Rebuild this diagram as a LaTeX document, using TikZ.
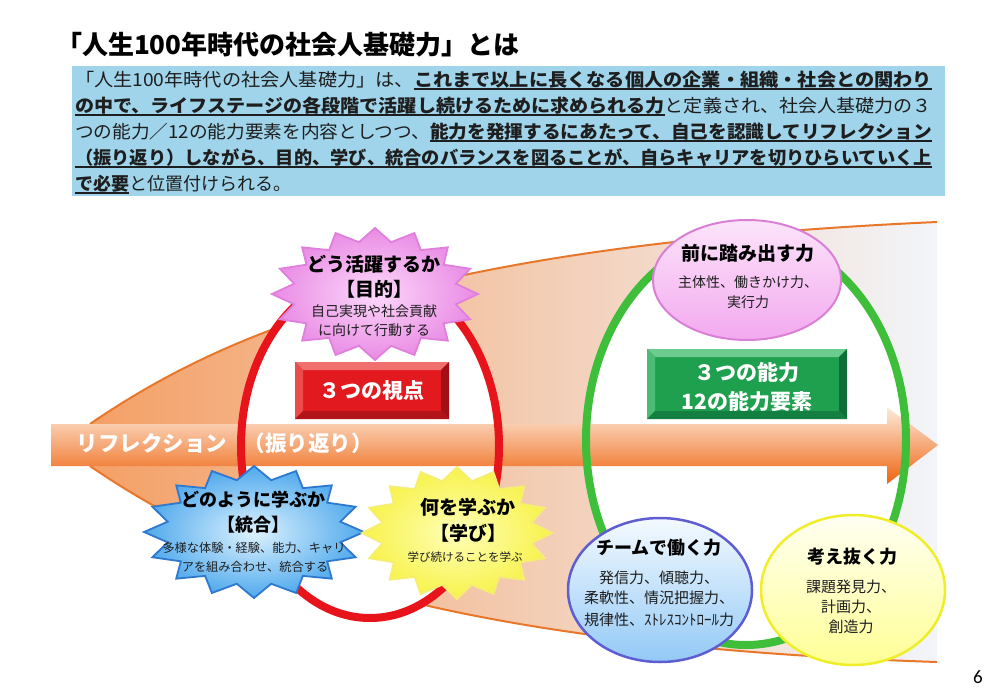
\documentclass[tikz,border=0pt]{standalone}
\usepackage{fontspec}
\usepackage{graphicx}
\setmainfont{Noto Sans CJK JP}
\newfontfamily\pgnum{Carlito}
\usetikzlibrary{shapes.geometric}
\definecolor{boxblue}{HTML}{9FD4EA}
\definecolor{wedgeline}{HTML}{E8772A}
\definecolor{wedgeL}{HTML}{F4A066}
\definecolor{wedgeM}{HTML}{FBDDC8}
\definecolor{wedgeR}{HTML}{F2F5FA}
\definecolor{ringred}{HTML}{E8141C}
\definecolor{ringgreen}{HTML}{3FBE3A}
\definecolor{arrT}{HTML}{FDEBDD}
\definecolor{arrM}{HTML}{F6852F}
\definecolor{arrB}{HTML}{EE6410}
\definecolor{rbC}{HTML}{E2191F}
\definecolor{rbT}{HTML}{F07070}
\definecolor{rbL}{HTML}{EA4C4C}
\definecolor{rbR}{HTML}{A01015}
\definecolor{rbB}{HTML}{B3141A}
\definecolor{gbC}{HTML}{1FA04F}
\definecolor{gbT}{HTML}{6CCB8E}
\definecolor{gbL}{HTML}{4DBB75}
\definecolor{gbR}{HTML}{0F6E38}
\definecolor{gbB}{HTML}{137F40}
\definecolor{pinkIn}{HTML}{FCD8FA}
\definecolor{pinkOut}{HTML}{E98BE4}
\definecolor{pinkEdge}{HTML}{E07FDD}
\definecolor{blueIn}{HTML}{DDF2FF}
\definecolor{blueOut}{HTML}{4FA9EC}
\definecolor{blueEdge}{HTML}{2E78D0}
\definecolor{yelIn}{HTML}{FFFFB8}
\definecolor{yelOut}{HTML}{F7F24A}
\definecolor{yelEdge}{HTML}{F5EE70}
\definecolor{peT}{HTML}{FCE4FA}
\definecolor{peB}{HTML}{F3A9EF}
\definecolor{peEdge}{HTML}{D980D6}
\definecolor{beT}{HTML}{F4FAFF}
\definecolor{beB}{HTML}{93C9F6}
\definecolor{beEdge}{HTML}{5E5ED2}
\definecolor{yeT}{HTML}{FFFFF2}
\definecolor{yeB}{HTML}{FFFF96}
\definecolor{yeEdge}{HTML}{F0EE28}
\definecolor{txt}{HTML}{1E1E1E}
\newcommand\ulb[1]{\setbox2=\hbox{\bfseries #1}\rlap{\rule[-3.8pt]{\wd2}{1.4pt}}\box2}
\newcommand\fitline[2]{\setbox0=\hbox{#2}\pgfmathsetmacro\fitsx{#1/\the\wd0}\scalebox{\fitsx}[1]{\box0}}
\newcommand\starshape[5]{plot[samples at={0,11.25,...,348.75},variable=\t]({#1+#3*(#5+(1-#5)*(1+cos(16*\t))/2)*cos(\t)},{#2+#4*(#5+(1-#5)*(1+cos(16*\t))/2)*sin(\t)}) -- cycle}
\newcommand\bevelbox[6]{%
  \fill[#6C] (#1,#2) rectangle (#3,#4);
  \fill[#6T] (#1,#2) -- (#3,#2) -- ({#3-#5},{#2+#5}) -- ({#1+#5},{#2+#5}) -- cycle;
  \fill[#6L] (#1,#2) -- ({#1+#5},{#2+#5}) -- ({#1+#5},{#4-#5}) -- (#1,#4) -- cycle;
  \fill[#6R] (#3,#2) -- ({#3-#5},{#2+#5}) -- ({#3-#5},{#4-#5}) -- (#3,#4) -- cycle;
  \fill[#6B] (#1,#4) -- ({#1+#5},{#4-#5}) -- ({#3-#5},{#4-#5}) -- (#3,#4) -- cycle;}
\tikzset{
  every node/.style={inner sep=0pt, outer sep=0pt},
  bodytext/.style={font=\fontsize{18}{22}\selectfont, text=txt, anchor=base west},
  hd/.style={font=\fontsize{19}{22}\selectfont\bfseries, text=black},
  hdsmall/.style={font=\fontsize{18}{22}\selectfont\bfseries, text=black},
  sm/.style={font=\fontsize{14}{16}\selectfont, text=txt},
  smb/.style={font=\fontsize{12.2}{14}\selectfont, text=txt},
  elt/.style={font=\fontsize{15}{18}\selectfont, text=txt},
  boxtxt/.style={font=\fontsize{21}{24}\selectfont\bfseries, text=white},
  arrtxt/.style={font=\fontsize{21.5}{26}\selectfont\bfseries, text=white},
  ring/.style={line width=8pt},
  oval/.style={ellipse, line width=2.5pt},
}
\begin{document}
\begin{tikzpicture}[x=1pt,y=-1pt]
\useasboundingbox (0,0) rectangle (1001,693);
\fill[white] (0,0) rectangle (1001,693);
% title
\node[anchor=west, font=\fontsize{26}{30}\selectfont\bfseries, text=black] (title) at (56,45) {「人生100年時代の社会人基礎力」とは};
% blue box
\fill[boxblue] (72,66) rectangle (945,196);
\node[bodytext] (l1) at (75,86) {\fitline{857}{「人生100年時代の社会人基礎力」は、\ulb{これまで以上に長くなる個人の企業・組織・社会との関わり}}};
\node[bodytext] (l2) at (75,112) {\fitline{857}{\ulb{の中で、ライフステージの各段階で活躍し続けるために求められる力}と定義され、社会人基礎力の３}};
\node[bodytext] (l3) at (75,138) {\fitline{857}{つの能力／12の能力要素を内容としつつ、\ulb{能力を発揮するにあたって、自己を認識してリフレクション}}};
\node[bodytext] (l4) at (75,164) {\fitline{857}{\ulb{（振り返り）しながら、目的、学び、統合のバランスを図ることが、自らキャリアを切りひらいていく上}}};
\node[bodytext] (l5) at (75,190) {\ulb{で必要}と位置付けられる。};
% wedge
\path[left color=wedgeL, middle color=wedgeM, right color=wedgeR]
  (90,424) .. controls (220,335) and (420,245) .. (937,222) -- (937,662)
  .. controls (420,645) and (220,555) .. (90,466) -- cycle;
\draw[wedgeline, line width=2pt] (90,424) .. controls (220,335) and (420,245) .. (937,222);
\draw[wedgeline, line width=2pt] (90,466) .. controls (220,555) and (420,645) .. (937,662);
% ring fills
\fill[white] (370,446) ellipse [x radius=129, y radius=172];
\fill[white] (746,440) ellipse [x radius=160, y radius=205];
% arrow
\path[top color=arrT, middle color=arrM, bottom color=arrB]
  (51,424) -- (887,424) -- (887,407) -- (938,445) -- (887,484) -- (887,466) -- (51,466) -- cycle;
\node[arrtxt] (arrtxt1) at (152,443) {リフレクション};
\node[arrtxt] (arrtxt2) at (308,443) {（振り返り）};
% ring strokes
\draw[ringred, ring] (370,446) ellipse [x radius=129, y radius=172];
\draw[ringgreen, ring] (746,440) ellipse [x radius=160, y radius=205];
% bevel boxes
\bevelbox{295}{362}{449}{419}{8}{rb}
\node[boxtxt] (redtxt) at (372,391) {３つの視点};
\bevelbox{647}{349}{847}{419}{8}{gb}
\node[boxtxt] (gtxt1) at (747,373) {３つの能力};
\node[boxtxt] (gtxt2) at (747,402) {12の能力要素};
% stars
\path[draw=pinkEdge, line width=1.8pt, line join=miter, inner color=pinkIn, outer color=pinkOut] \starshape{375}{294}{103}{66}{0.8};
\path[draw=blueEdge, line width=1.8pt, line join=miter, inner color=blueIn, outer color=blueOut] \starshape{254}{532}{110}{66}{0.8};
\path[draw=yelEdge, line width=1.8pt, line join=miter, inner color=yelIn, outer color=yelOut] \starshape{457}{533}{95}{66}{0.8};
\node[hd] (s1a) at (374,264) {どう活躍するか};
\node[hd] (s1b) at (374,289) {【目的】};
\node[sm] (s1c) at (374,311) {自己実現や社会貢献};
\node[sm] (s1d) at (374,330) {に向けて行動する};
\node[hdsmall] (s2a) at (253,500) {どのように学ぶか};
\node[hdsmall] (s2b) at (253,525) {【統合】};
\node[smb] (s2c) at (254,548) {多様な体験・経験、能力、キャリ};
\node[smb] (s2d) at (255,567) {アを組み合わせ、統合する};
\node[hd] (s3a) at (468,507) {何を学ぶか};
\node[hd] (s3b) at (468,533) {【学び】};
\node[font=\fontsize{11.5}{14}\selectfont, text=txt] (s3c) at (465,557) {学び続けることを学ぶ};
% ellipses
\node[oval, draw=peEdge, line width=2pt, top color=peT, bottom color=peB, minimum width=188pt, minimum height=120pt] (eP) at (747,280) {};
\node[oval, draw=beEdge, top color=beT, bottom color=beB, minimum width=184pt, minimum height=144pt] (eB) at (660,590) {};
\node[oval, draw=yeEdge, top color=yeT, bottom color=yeB, minimum width=184pt, minimum height=150pt] (eY) at (853,590) {};
\node[hd] (e1a) at (748,253) {前に踏み出す力};
\node[sm] (e1b) at (748,282) {主体性、働きかけ力、};
\node[sm] (e1c) at (748,302) {実行力};
\node[hdsmall] (e2a) at (659,548) {チームで働く力};
\node[elt] (e2b) at (659,578) {発信力、傾聴力、};
\node[elt] (e2c) at (659,598) {柔軟性、情況把握力、};
\node[elt] (e2d) at (659,620) {規律性、ｽﾄﾚｽｺﾝﾄﾛｰﾙ力};
\node[hdsmall] (e3a) at (852,557) {考え抜く力};
\node[elt] (e3b) at (851,587) {課題発見力、};
\node[elt] (e3c) at (851,607) {計画力、};
\node[elt] (e3d) at (851,627) {創造力};
% page number
\node[font=\pgnum\fontsize{19}{22}\selectfont, text=black] (pg) at (978,677) {6};
\end{tikzpicture}
\end{document}
